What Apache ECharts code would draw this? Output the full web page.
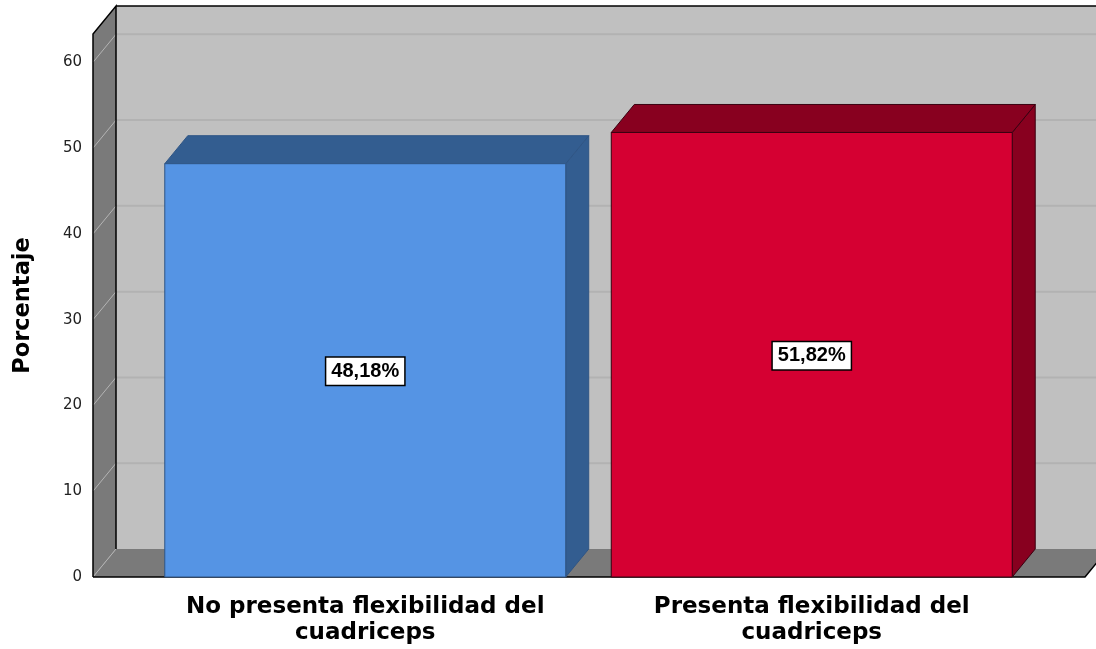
<!DOCTYPE html>
<html>
<head>
<meta charset="utf-8">
<script src="https://cdn.jsdelivr.net/npm/echarts@6/dist/echarts.min.js"></script>
<style>
html,body{margin:0;padding:0;background:#fff;}
#chart{width:1096px;height:649px;}
</style>
</head>
<body>
<div id="chart"></div>
<script>
// ---- data ----
const categories = ['No presenta flexibilidad del\ncuadriceps', 'Presenta flexibilidad del\ncuadriceps'];
const values = [48.18, 51.82];
const valueLabels = ['48,18%', '51,82%'];
const yTicks = [0, 10, 20, 30, 40, 50, 60];
const yTitle = 'Porcentaje';

// ---- styles ----
const frontColors = ['#5594E4', '#D50032'];
const darkColors = ['#335D90', '#88001F'];
const edgeColors = ['#2F5585', '#3A0010'];
const DX = 23, DY = -28;          // depth projection (px)
const WALL_EXT_L = 49, WALL_EXT_R = 50;
const WIDE_FONT = '"DejaVu Sans", "Liberation Sans", Arial, sans-serif';

const chart = echarts.init(document.getElementById('chart'), null, {renderer: 'canvas'});

function renderFrame(params, api) {
  const cs = params.coordSys;
  const y0 = api.coord([0, 0])[1];
  const yTop = cs.y;
  const fl = cs.x - WALL_EXT_L;
  const fr = cs.x + cs.width + WALL_EXT_R;
  const children = [];
  children.push({type: 'rect', shape: {x: fl + DX, y: yTop + DY, width: fr - fl + 40, height: y0 - yTop}, style: {fill: '#C0C0C0'}});
  yTicks.forEach(function (v) {
    if (v === 0) return;
    const y = api.coord([0, v])[1] + DY;
    children.push({type: 'line', shape: {x1: fl + DX, y1: y, x2: fr + DX + 40, y2: y}, style: {stroke: '#B2B2B2', lineWidth: 2}});
  });
  children.push({type: 'line', shape: {x1: fl + DX, y1: yTop + DY, x2: fr + DX + 40, y2: yTop + DY}, style: {stroke: '#000', lineWidth: 1.5}});
  children.push({type: 'polygon', shape: {points: [[fl, yTop], [fl + DX, yTop + DY], [fl + DX, y0 + DY], [fl, y0]]}, style: {fill: '#7A7A7A'}});
  children.push({type: 'polygon', shape: {points: [[fl, y0], [fl + DX, y0 + DY], [fr + DX, y0 + DY], [fr, y0]]}, style: {fill: '#7A7A7A'}});
  yTicks.forEach(function (v) {
    const y = api.coord([0, v])[1];
    children.push({type: 'line', shape: {x1: fl, y1: y, x2: fl + DX, y2: y + DY}, style: {stroke: '#B4B4B4', lineWidth: 1}});
  });
  children.push({type: 'polyline', shape: {points: [[fl, y0], [fl, yTop], [fl + DX, yTop + DY], [fl + DX, y0 + DY]]}, style: {stroke: '#000', lineWidth: 1.5, fill: null}});
  children.push({type: 'polyline', shape: {points: [[fl, y0], [fr, y0], [fr + DX, y0 + DY]]}, style: {stroke: '#000', lineWidth: 1.5, fill: null}});
  return {type: 'group', children: children};
}

function renderBar(params, api) {
  const i = api.value(0);
  const v = api.value(1);
  const top = api.coord([i, v]);
  const base = api.coord([i, 0]);
  const w = api.size([1, 0])[0] * 0.898;
  const x = top[0] - w / 2;
  const ty = top[1], by = base[1];
  const idx = params.dataIndex;
  const edge = edgeColors[idx];
  const midY = api.coord([i, v / 2])[1];
  return {
    type: 'group',
    children: [
      {type: 'polygon', shape: {points: [[x + w, ty], [x + w + DX, ty + DY], [x + w + DX, by + DY], [x + w, by]]},
        style: {fill: darkColors[idx], stroke: edge, lineWidth: 1}},
      {type: 'polygon', shape: {points: [[x, ty], [x + DX, ty + DY], [x + w + DX, ty + DY], [x + w, ty]]},
        style: {fill: darkColors[idx], stroke: edge, lineWidth: 1}},
      {type: 'rect', shape: {x: x, y: ty, width: w, height: by - ty},
        style: {fill: frontColors[idx], stroke: edge, lineWidth: 1}},
      {type: 'text', x: top[0], y: midY + 1,
        style: {text: valueLabels[idx], align: 'center', verticalAlign: 'middle',
          font: 'bold 20px "Liberation Sans Narrow", "Arial Narrow", "Liberation Sans", Arial, sans-serif',
          fill: '#000', backgroundColor: '#fff', borderColor: '#000', borderWidth: 1.5, padding: [4, 5, 3, 5]}}
    ]
  };
}

const option = {
  animation: false,
  backgroundColor: '#fff',
  grid: {left: 142, right: 61, top: 34, bottom: 72, containLabel: false},
  xAxis: {
    type: 'category',
    data: categories,
    boundaryGap: true,
    axisLine: {show: false}, axisTick: {show: false},
    axisLabel: {margin: 17, color: '#000', fontFamily: WIDE_FONT, fontWeight: 'bold', fontSize: 23, lineHeight: 26, interval: 0}
  },
  yAxis: {
    type: 'value', min: 0, max: 63.3, interval: 10,
    name: yTitle, nameLocation: 'middle', nameRotate: 90, nameGap: 107,
    nameTextStyle: {color: '#000', fontFamily: WIDE_FONT, fontWeight: 'bold', fontSize: 22.5},
    axisLine: {show: false}, axisTick: {show: false}, splitLine: {show: false},
    axisLabel: {margin: 60, color: '#222', fontFamily: WIDE_FONT, fontSize: 15,
      formatter: function (v) { return yTicks.indexOf(v) >= 0 ? String(v) : ''; }}
  },
  series: [
    {type: 'custom', renderItem: renderFrame, data: [[0, 0]], silent: true, z: 1},
    {type: 'custom', renderItem: renderBar, data: values.map(function (v, i) { return [i, v]; }), z: 2}
  ]
};
chart.setOption(option);
</script>
</body>
</html>
